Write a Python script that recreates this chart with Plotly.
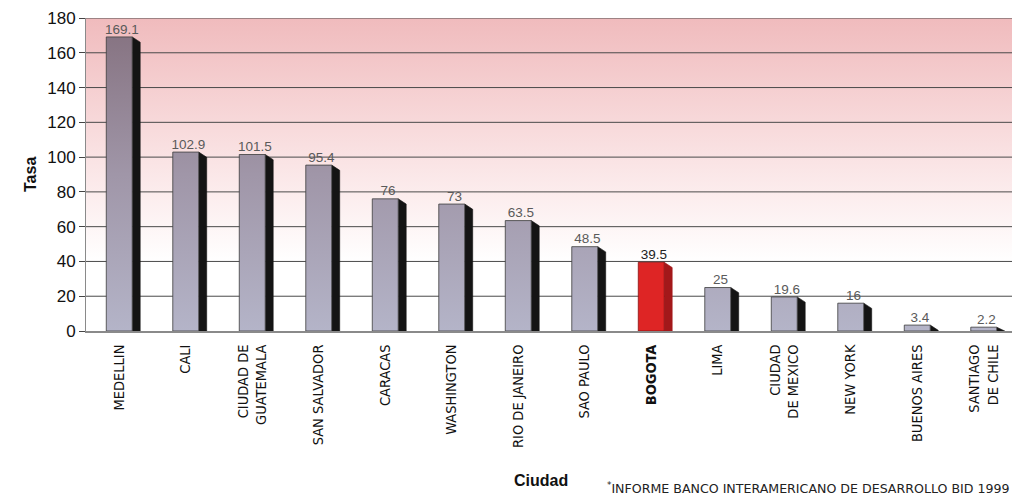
import plotly.graph_objects as go

# Tasa por ciudad
ciudades = [
    "MEDELLIN", "CALI", "CIUDAD DE<br>GUATEMALA", "SAN SALVADOR", "CARACAS",
    "WASHINGTON", "RIO DE JANEIRO", "SAO PAULO", "<b>BOGOTA</b>", "LIMA",
    "CIUDAD<br>DE MEXICO", "NEW YORK", "BUENOS AIRES", "SANTIAGO<br>DE CHILE",
]
tasas = [169.1, 102.9, 101.5, 95.4, 76, 73, 63.5, 48.5, 39.5, 25, 19.6, 16, 3.4, 2.2]
etiquetas = ["169.1", "102.9", "101.5", "95.4", "76", "73", "63.5", "48.5",
             "39.5", "25", "19.6", "16", "3.4", "2.2"]
destacada = "<b>BOGOTA</b>"
y_ticks = [0, 20, 40, 60, 80, 100, 120, 140, 160, 180]

W, H = 1012, 496
ML, MR, MT, MB = 86, 0, 18, 165
X0 = -0.5
X1 = X0 + (W - ML - MR) / 66.5
Y0, Y1 = 0, 180

FRONT_W = 0.39      # front face width (category units)
SIDE_W = 0.12       # side face depth
SIDE_DROP = 3.0     # slant of the side face top (value units)

fig = go.Figure()

# pink-to-white backdrop of the plot area
fig.add_trace(go.Scatter(
    x=[X0, X1, X1, X0, X0], y=[Y0, Y0, Y1, Y1, Y0],
    mode="lines", line=dict(width=0), fill="toself",
    fillgradient=dict(type="vertical", start=Y0, stop=Y1,
                      colorscale=[[0, "#ffffff"], [0.22, "#ffffff"],
                                  [0.55, "#fae3e4"], [1, "#f0bbbd"]]),
    hoverinfo="skip", showlegend=False,
))

# horizontal gridlines at the tick values
gx, gy = [], []
for t in y_ticks[1:]:
    gx += [X0, X1, None]
    gy += [t, t, None]
fig.add_trace(go.Scatter(x=gx, y=gy, mode="lines",
                         line=dict(color="#4a4a4a", width=1),
                         hoverinfo="skip", showlegend=False))

# 3D-looking bars: front face with gradient, dark slanted side face
for i, (c, v) in enumerate(zip(ciudades, tasas)):
    xl, xr = i - FRONT_W / 2, i + FRONT_W / 2
    is_red = c == destacada
    side_color = "#a3181a" if is_red else "#141414"
    fig.add_trace(go.Scatter(
        x=[xr, xr + SIDE_W, xr + SIDE_W, xr, xr],
        y=[0, 0, max(v - SIDE_DROP, 0), v, 0],
        mode="lines", line=dict(color=side_color, width=0.6),
        fill="toself", fillcolor=side_color,
        hoverinfo="skip", showlegend=False,
    ))
    if is_red:
        front = dict(fillcolor="#de2525")
        edge = "#8a1010"
    else:
        front = dict(fillgradient=dict(
            type="vertical", start=Y0, stop=Y1,
            colorscale=[[0, "#b4b4c8"], [0.5, "#a096a8"], [1, "#84707e"]]))
        edge = "#3c3c3c"
    fig.add_trace(go.Scatter(
        x=[xl, xr, xr, xl, xl], y=[0, 0, v, v, 0],
        mode="lines", line=dict(color=edge, width=0.8),
        fill="toself", name=c.replace("<br>", " ").replace("<b>", "").replace("</b>", ""),
        hovertemplate="%{fullData.name}: " + str(v) + "<extra></extra>",
        showlegend=False, **front,
    ))

# value labels above each bar
lab_colors = ["#222222" if c == destacada else "#5a5a5a" for c in ciudades]
fig.add_trace(go.Scatter(
    x=[i + 0.04 for i in range(len(tasas))], y=tasas,
    mode="text", text=etiquetas, textposition="top center",
    textfont=dict(family="Liberation Sans, Arial, sans-serif", size=13.5, color=lab_colors),
    hoverinfo="skip", showlegend=False,
))

fig.update_layout(
    width=W, height=H,
    margin=dict(l=ML, r=MR, t=MT, b=MB),
    paper_bgcolor="white", plot_bgcolor="white",
    font=dict(family="Liberation Sans, Arial, sans-serif", color="#111111"),
    xaxis=dict(
        range=[X0, X1], tickmode="array",
        tickvals=list(range(len(ciudades))), ticktext=ciudades,
        tickangle=-90, showgrid=False, zeroline=False,
        showline=True, linecolor="#8a8a8a", linewidth=1.5,
        ticks="", ticklabelstandoff=6,
        tickfont=dict(family="Liberation Sans Narrow, DejaVu Sans Condensed, Arial Narrow, sans-serif",
                      size=14.5, color="#111111"),
    ),
    yaxis=dict(
        range=[Y0, Y1], tickmode="array", tickvals=y_ticks,
        showgrid=False, zeroline=False,
        showline=True, linecolor="#8a8a8a", linewidth=1,
        ticks="outside", ticklen=6, tickcolor="#444444",
        tickfont=dict(size=17, color="#111111"),
    ),
    annotations=[
        dict(text="<b>Tasa</b>", xref="paper", yref="paper", x=0, y=0.5,
             xshift=-66, textangle=-90, showarrow=False,
             font=dict(size=16, color="#111111")),
        dict(text="<b>Ciudad</b>", xref="paper", yref="paper",
             x=(541 - ML) / (W - ML - MR), y=-(480 - (H - MB)) / (H - MT - MB),
             xanchor="center", yanchor="middle", showarrow=False,
             font=dict(size=16, color="#111111")),
        dict(text="<sup>*</sup>INFORME BANCO INTERAMERICANO DE DESARROLLO BID 1999",
             xref="paper", yref="paper",
             x=(605 - ML) / (W - ML - MR), y=-(488 - (H - MB)) / (H - MT - MB),
             xanchor="left", yanchor="middle", showarrow=False,
             font=dict(family="DejaVu Sans, sans-serif", size=12.6, color="#222222")),
    ],
)

fig.write_html("out.html")
